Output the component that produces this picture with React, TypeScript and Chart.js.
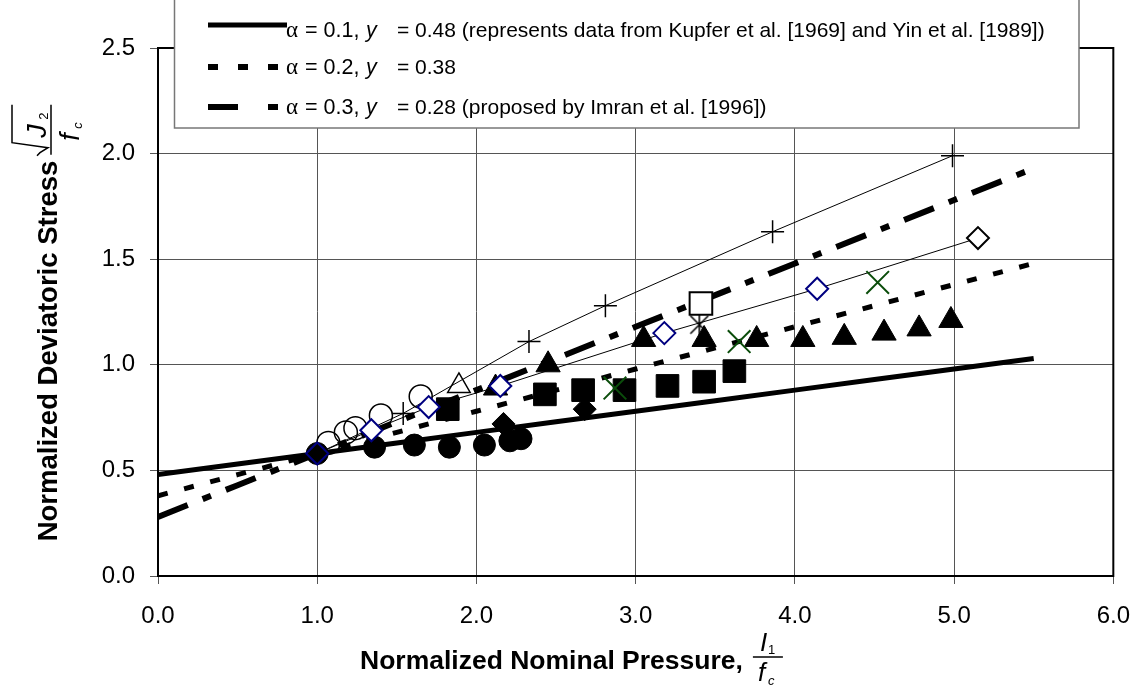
import React, { useEffect, useRef } from 'react';
import { Chart, registerables } from 'chart.js';
Chart.register(...registerables);

// ---- model lines ----
const modelX = [0, 0.5, 1.0, 1.5, 2.0, 2.5, 3.0, 3.5, 4.0, 4.5, 5.0, 5.5];
const modelA01 = [0.48, 0.53, 0.58, 0.63, 0.68, 0.73, 0.78, 0.83, 0.88, 0.93, 0.98, 1.03];
const modelA02 = [0.38, 0.48, 0.58, 0.68, 0.78, 0.88, 0.98, 1.08, 1.18, 1.28, 1.38, 1.48];
const modelA03 = [0.28, 0.43, 0.58, 0.73, 0.88, 1.03, 1.18, 1.33, 1.48, 1.63, 1.78, 1.93];

// ---- experimental markers ----
const filledCircleX = [1.0, 1.36, 1.61, 1.83, 2.05, 2.21, 2.28];
const filledCircleY = [0.58, 0.61, 0.62, 0.61, 0.62, 0.64, 0.65];
const openCircleX = [1.07, 1.18, 1.24, 1.4, 1.65];
const openCircleY = [0.63, 0.68, 0.7, 0.76, 0.85];
const blueDiamondX = [1.0, 1.34, 1.7, 2.15, 3.18, 4.14];
const blueDiamondY = [0.58, 0.69, 0.8, 0.9, 1.15, 1.36];
const filledDiamondX = [1.0, 2.17, 2.68];
const filledDiamondY = [0.58, 0.72, 0.79];
const filledSquareX = [1.82, 2.43, 2.67, 2.93, 3.2, 3.43, 3.62];
const filledSquareY = [0.79, 0.86, 0.88, 0.88, 0.9, 0.92, 0.97];
const filledTriangleX = [2.12, 2.45, 3.05, 3.43, 3.76, 4.05, 4.31, 4.56, 4.78, 4.98];
const filledTriangleY = [0.89, 1.0, 1.12, 1.12, 1.12, 1.12, 1.13, 1.15, 1.17, 1.21];
const openTriangleX = [1.89];
const openTriangleY = [0.9];
const openSquareX = [3.41];
const openSquareY = [1.29];
const starX = [3.4];
const starY = [1.19];
const openDiamondX = [5.15];
const openDiamondY = [1.6];
const greenXX = [2.87, 3.65, 4.52];
const greenXY = [0.89, 1.11, 1.39];
const plusX = [1.54, 2.33, 2.81, 3.86, 4.99];
const plusY = [0.77, 1.11, 1.28, 1.63, 1.99];
const thinLine1X = [1.0, 1.54, 2.33, 2.81, 3.86, 4.99];
const thinLine1Y = [0.58, 0.77, 1.11, 1.28, 1.63, 1.99];
const thinLine2X = [1.0, 1.34, 1.7, 2.15, 3.18, 4.14, 5.15];
const thinLine2Y = [0.58, 0.69, 0.8, 0.9, 1.15, 1.36, 1.6];

// ---- text ----
const legendAlphas = ['0.1', '0.2', '0.3'];
const legendGammas = ['0.48', '0.38', '0.28'];
const legendNotes = [
  ' (represents data from Kupfer et al. [1969] and Yin et al. [1989])',
  '',
  ' (proposed by Imran et al. [1996])',
];
const xTitle = 'Normalized Nominal Pressure,';
const yTitle = 'Normalized Deviatoric Stress';

const SANS = "'Liberation Sans', Arial, sans-serif";

const pts = (xs: number[], ys: number[]) => xs.map((x, i) => ({ x, y: ys[i] }));

function makeStar(): HTMLCanvasElement {
  const c = document.createElement('canvas');
  c.width = 26;
  c.height = 26;
  const g = c.getContext('2d')!;
  g.strokeStyle = '#000';
  g.lineWidth = 1.6;
  g.beginPath();
  g.moveTo(4, 4); g.lineTo(22, 22);
  g.moveTo(22, 4); g.lineTo(4, 22);
  g.moveTo(13, 0); g.lineTo(13, 26);
  g.stroke();
  return c;
}

const decor = {
  id: 'decor',
  afterDatasetsDraw(chart: any) {
    const { ctx, chartArea: a } = chart;
    ctx.save();
    ctx.strokeStyle = '#000';
    ctx.lineWidth = 2;
    ctx.strokeRect(a.left, a.top, a.right - a.left, a.bottom - a.top);
    ctx.restore();
  },
  afterDraw(chart: any) {
    const ctx: CanvasRenderingContext2D = chart.ctx;
    ctx.save();
    // legend box
    ctx.fillStyle = '#fff';
    ctx.fillRect(174, -2, 905, 130);
    ctx.strokeStyle = '#777';
    ctx.lineWidth = 1.5;
    ctx.strokeRect(174.5, -2, 904.5, 130);

    const lineYs = [25, 67, 107];
    const baseYs = [37, 74, 114];
    const dashes = [[], [10, 20], [30, 30, 10, 30]];
    const widths = [5, 6, 6];
    const ends = [287, 278, 278];
    for (let i = 0; i < 3; i++) {
      ctx.strokeStyle = '#000';
      ctx.lineWidth = widths[i];
      ctx.lineCap = 'butt';
      ctx.setLineDash(dashes[i]);
      ctx.beginPath();
      ctx.moveTo(208, lineYs[i]);
      ctx.lineTo(ends[i], lineYs[i]);
      ctx.stroke();
      ctx.setLineDash([]);
      ctx.fillStyle = '#000';
      ctx.textAlign = 'left';
      ctx.textBaseline = 'alphabetic';
      ctx.font = "23px 'Liberation Serif', serif";
      ctx.fillText('\u03B1', 286, baseYs[i]);
      ctx.font = `21.5px ${SANS}`;
      ctx.fillText(`= ${legendAlphas[i]},`, 305, baseYs[i]);
      ctx.font = `italic 21.5px ${SANS}`;
      ctx.fillText('y', 366, baseYs[i]);
      ctx.font = `21px ${SANS}`;
      ctx.fillText(`= ${legendGammas[i]}${legendNotes[i]}`, 397, baseYs[i]);
    }

    // y title
    ctx.save();
    ctx.translate(57, 351);
    ctx.rotate(-Math.PI / 2);
    ctx.font = `bold 27.5px ${SANS}`;
    ctx.textAlign = 'center';
    ctx.fillText(yTitle, 0, 0);
    const ue = ctx.measureText(yTitle).width / 2;
    ctx.textAlign = 'left';
    ctx.lineWidth = 1.5;
    ctx.beginPath();
    ctx.moveTo(ue + 6, -6);
    ctx.lineTo(ue + 56, -6);
    ctx.stroke();
    ctx.beginPath();
    ctx.moveTo(ue + 5, -20);
    ctx.lineTo(ue + 8, -17);
    ctx.lineTo(ue + 13, -9);
    ctx.lineTo(ue + 18, -45);
    ctx.lineTo(ue + 56, -45);
    ctx.stroke();
    ctx.font = `italic 27px ${SANS}`;
    ctx.fillText('J', ue + 23, -11);
    ctx.fillText('f', ue + 20, 22);
    ctx.font = `13px ${SANS}`;
    ctx.fillText('2', ue + 41, -9);
    ctx.font = `italic 13px ${SANS}`;
    ctx.fillText('c', ue + 32, 25);
    ctx.restore();

    // x title
    ctx.font = `bold 26.5px ${SANS}`;
    ctx.textAlign = 'left';
    ctx.fillText(xTitle, 360, 669);
    const xe = 360 + ctx.measureText(xTitle).width;
    ctx.lineWidth = 1.5;
    ctx.beginPath();
    ctx.moveTo(xe + 10, 657);
    ctx.lineTo(xe + 40, 657);
    ctx.stroke();
    ctx.font = `italic 26px ${SANS}`;
    ctx.fillText('I', xe + 17, 651);
    ctx.fillText('f', xe + 15, 681);
    ctx.font = `13px ${SANS}`;
    ctx.fillText('1', xe + 25, 654);
    ctx.font = `italic 13px ${SANS}`;
    ctx.fillText('c', xe + 25, 685);
    ctx.restore();
  },
};

export default function App() {
  const ref = useRef<HTMLCanvasElement>(null);
  useEffect(() => {
    const canvas = ref.current!;
    const star = makeStar();
    const thin = (xs: number[], ys: number[]) => ({
      data: pts(xs, ys), showLine: true, borderColor: '#000', borderWidth: 1,
      pointRadius: 0, order: 20,
    });
    const model = (ys: number[], w: number, dash: number[]) => ({
      data: pts(modelX, ys), showLine: true, borderColor: '#000', borderWidth: w,
      borderDash: dash, borderCapStyle: 'butt', pointRadius: 0, order: 15,
    });
    const chart = new Chart(canvas, {
      type: 'scatter',
      data: {
        datasets: [
          thin(thinLine1X, thinLine1Y) as any,
          thin(thinLine2X, thinLine2Y) as any,
          model(modelA01, 5, []) as any,
          model(modelA02, 5, [10, 17]) as any,
          model(modelA03, 6, [32, 16, 9, 16]) as any,
          { data: pts(filledCircleX, filledCircleY), pointStyle: 'circle', pointRadius: 11, backgroundColor: '#000', borderColor: '#000', borderWidth: 1, order: 9 },
          { data: pts(openCircleX, openCircleY), pointStyle: 'circle', pointRadius: 11.5, backgroundColor: 'rgba(0,0,0,0)', borderColor: '#000', borderWidth: 1.5, order: 8 },
          { data: pts(filledSquareX, filledSquareY), pointStyle: 'rect', pointRadius: 16, backgroundColor: '#000', borderColor: '#000', borderWidth: 1, order: 8 },
          { data: pts(filledDiamondX, filledDiamondY), pointStyle: 'rectRot', pointRadius: 11.5, backgroundColor: '#000', borderColor: '#000', borderWidth: 1, order: 7 },
          { data: pts(filledTriangleX, filledTriangleY), pointStyle: 'triangle', pointRadius: 14, backgroundColor: '#000', borderColor: '#000', borderWidth: 1, order: 7 },
          { data: pts(openTriangleX, openTriangleY), pointStyle: 'triangle', pointRadius: 13, backgroundColor: 'rgba(255,255,255,0)', borderColor: '#000', borderWidth: 1.5, order: 6 },
          { data: pts(starX, starY), pointStyle: star, pointRadius: 13, order: 6 },
          { data: pts(openSquareX, openSquareY), pointStyle: 'rect', pointRadius: 16, backgroundColor: '#fff', borderColor: '#000', borderWidth: 2, order: 5 },
          { data: pts(openDiamondX, openDiamondY), pointStyle: 'rectRot', pointRadius: 11, backgroundColor: '#fff', borderColor: '#000', borderWidth: 2, order: 5 },
          { data: pts(greenXX, greenXY), pointStyle: 'crossRot', pointRadius: 16, borderColor: '#0b4d0b', borderWidth: 2, order: 4 },
          { data: pts(plusX, plusY), pointStyle: 'cross', pointRadius: 11.5, borderColor: '#000', borderWidth: 1.5, order: 4 },
          { data: pts(blueDiamondX, blueDiamondY), pointStyle: 'rectRot', pointRadius: 11, backgroundColor: blueDiamondX.map((_, i) => (i === 0 ? 'rgba(0,0,0,0)' : '#fff')), borderColor: '#000080', borderWidth: 2, order: 2 },
        ],
      },
      options: {
        responsive: false,
        animation: false,
        devicePixelRatio: 1,
        events: [],
        layout: { padding: { left: 0, top: 48, right: 29, bottom: 0 } },
        plugins: { legend: { display: false }, tooltip: { enabled: false } },
        scales: {
          x: {
            type: 'linear', min: 0, max: 6,
            ticks: { stepSize: 1, callback: (v: any) => Number(v).toFixed(1), font: { family: SANS, size: 24 }, color: '#000', padding: 18, maxRotation: 0 },
            grid: { color: '#555', lineWidth: 1, tickLength: 8 },
            border: { color: '#000', width: 2 },
            afterFit: (s: any) => { s.height = 115; },
          },
          y: {
            type: 'linear', min: 0, max: 2.5,
            ticks: { stepSize: 0.5, callback: (v: any) => Number(v).toFixed(1), font: { family: SANS, size: 24 }, color: '#000', padding: 15 },
            grid: { color: '#555', lineWidth: 1, tickLength: 8 },
            border: { color: '#000', width: 2 },
            afterFit: (s: any) => { s.width = 158; },
          },
        },
      } as any,
      plugins: [decor],
    });
    return () => chart.destroy();
  }, []);
  return (
    <div style={{ position: 'fixed', left: 0, top: 0, width: 1148, height: 691, background: '#fff' }}>
      <canvas ref={ref} width={1148} height={691} style={{ display: 'block' }} />
    </div>
  );
}
